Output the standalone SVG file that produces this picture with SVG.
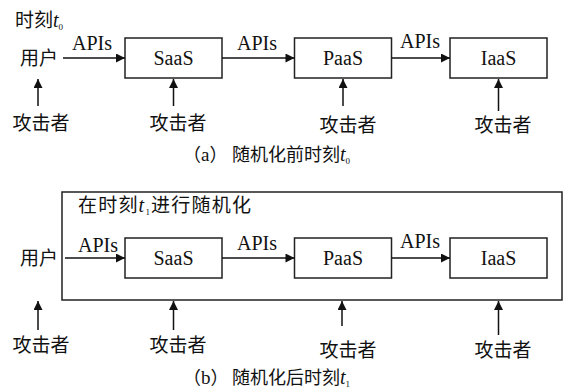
<svg xmlns="http://www.w3.org/2000/svg" width="570" height="390" viewBox="0 0 570 390">
<style>
text{fill:#111}
.cn{font-size:19px}
.cap{font-size:18px}
.lat{font-size:20px}
.it{font-style:italic}
.sub{font-size:9px}
.box{fill:#fff;stroke:#222;stroke-width:1.5}
.frame{fill:none;stroke:#222;stroke-width:1.5}
.ln{stroke:#111;stroke-width:1.5;fill:none}
</style>
<defs>
<marker id="ah" viewBox="0 0 10 10" refX="10" refY="5" markerWidth="10" markerHeight="9" markerUnits="userSpaceOnUse" orient="auto">
<path d="M0,0 L10,5 L0,10 z" fill="#111"/>
</marker>
</defs>
<rect width="570" height="390" fill="#fff"/>
<!-- (a) -->
<g id="a-title"><text class="cn" x="15" y="27" font-family="Noto Sans CJK SC">时刻<tspan class="it" font-family="Liberation Serif" font-size="20">t</tspan><tspan class="sub" dy="3" font-family="Liberation Serif">0</tspan></text></g>
<g id="a-user"><text class="cn" x="20" y="65" font-family="Noto Sans CJK SC">用户</text></g>
<g id="a-saas"><rect class="box" x="125" y="38" width="97" height="40"/><text class="lat" x="173.5" y="64.5" text-anchor="middle" font-family="Liberation Serif">SaaS</text></g>
<g id="a-paas"><rect class="box" x="294.5" y="38" width="97" height="40"/><text class="lat" x="343" y="64.5" text-anchor="middle" font-family="Liberation Serif">PaaS</text></g>
<g id="a-iaas"><rect class="box" x="450" y="38" width="97" height="40"/><text class="lat" x="498.5" y="64.5" text-anchor="middle" font-family="Liberation Serif">IaaS</text></g>
<g id="a-att1"><text class="cn" x="41" y="130" text-anchor="middle" font-family="Noto Sans CJK SC">攻击者</text></g>
<g id="a-att2"><text class="cn" x="178" y="130" text-anchor="middle" font-family="Noto Sans CJK SC">攻击者</text></g>
<g id="a-att3"><text class="cn" x="348" y="132" text-anchor="middle" font-family="Noto Sans CJK SC">攻击者</text></g>
<g id="a-att4"><text class="cn" x="503" y="132" text-anchor="middle" font-family="Noto Sans CJK SC">攻击者</text></g>
<g id="a-caption"><text class="cap" x="183" y="161" font-family="Noto Sans CJK SC">（<tspan font-family="Liberation Serif" font-size="19">a</tspan>）<tspan x="232">随机化前时刻</tspan><tspan class="it" font-family="Liberation Serif" font-size="20">t</tspan><tspan class="sub" dy="3" font-family="Liberation Serif">0</tspan></text></g>

<g id="a-connectors">
<line class="ln" x1="63" y1="58" x2="125" y2="58" marker-end="url(#ah)"/>
<line class="ln" x1="222" y1="58" x2="294.5" y2="58" marker-end="url(#ah)"/>
<line class="ln" x1="391.5" y1="58" x2="450" y2="58" marker-end="url(#ah)"/>
<line class="ln" x1="38" y1="106" x2="38" y2="79" marker-end="url(#ah)"/>
<line class="ln" x1="173.5" y1="106" x2="173.5" y2="79" marker-end="url(#ah)"/>
<line class="ln" x1="343" y1="106" x2="343" y2="79" marker-end="url(#ah)"/>
<line class="ln" x1="498.5" y1="111" x2="498.5" y2="79" marker-end="url(#ah)"/>
<text class="lat" x="72" y="50" font-family="Liberation Serif" font-size="21">APIs</text>
<text class="lat" x="237" y="50" font-family="Liberation Serif" font-size="21">APIs</text>
<text class="lat" x="400" y="48" font-family="Liberation Serif" font-size="21">APIs</text>
</g>

<!-- (b) -->
<g id="b-frame"><rect class="frame" x="62" y="192" width="500" height="108"/><text class="cn" x="78" y="212" letter-spacing="1.2" font-family="Noto Sans CJK SC">在时刻<tspan class="it" font-family="Liberation Serif" font-size="20">t</tspan><tspan class="sub" dy="3" font-family="Liberation Serif">1</tspan><tspan dy="-3">进行随机化</tspan></text></g>
<g id="b-user"><text class="cn" x="20" y="265" font-family="Noto Sans CJK SC">用户</text></g>
<g id="b-saas"><rect class="box" x="125" y="238" width="97" height="40"/><text class="lat" x="173.5" y="264.5" text-anchor="middle" font-family="Liberation Serif">SaaS</text></g>
<g id="b-paas"><rect class="box" x="294.5" y="238" width="97" height="40"/><text class="lat" x="343" y="264.5" text-anchor="middle" font-family="Liberation Serif">PaaS</text></g>
<g id="b-iaas"><rect class="box" x="450" y="238" width="97" height="40"/><text class="lat" x="498.5" y="264.5" text-anchor="middle" font-family="Liberation Serif">IaaS</text></g>
<g id="b-att1"><text class="cn" x="41" y="352" text-anchor="middle" font-family="Noto Sans CJK SC">攻击者</text></g>
<g id="b-att2"><text class="cn" x="178" y="352" text-anchor="middle" font-family="Noto Sans CJK SC">攻击者</text></g>
<g id="b-att3"><text class="cn" x="348" y="357" text-anchor="middle" font-family="Noto Sans CJK SC">攻击者</text></g>
<g id="b-att4"><text class="cn" x="503" y="357" text-anchor="middle" font-family="Noto Sans CJK SC">攻击者</text></g>
<g id="b-caption"><text class="cap" x="183" y="384" font-family="Noto Sans CJK SC">（<tspan font-family="Liberation Serif" font-size="19">b</tspan>）<tspan x="232">随机化后时刻</tspan><tspan class="it" font-family="Liberation Serif" font-size="20">t</tspan><tspan class="sub" dy="3" font-family="Liberation Serif">1</tspan></text></g>

<g id="b-connectors">
<line class="ln" x1="65" y1="258" x2="125" y2="258" marker-end="url(#ah)"/>
<line class="ln" x1="222" y1="258" x2="294.5" y2="258" marker-end="url(#ah)"/>
<line class="ln" x1="391.5" y1="258" x2="450" y2="258" marker-end="url(#ah)"/>
<line class="ln" x1="38" y1="330" x2="38" y2="301" marker-end="url(#ah)"/>
<line class="ln" x1="173.5" y1="330" x2="173.5" y2="301" marker-end="url(#ah)"/>
<line class="ln" x1="342" y1="326" x2="342" y2="301" marker-end="url(#ah)"/>
<line class="ln" x1="498.5" y1="335" x2="498.5" y2="301" marker-end="url(#ah)"/>
<text class="lat" x="78" y="252" font-family="Liberation Serif" font-size="21">APIs</text>
<text class="lat" x="237" y="250" font-family="Liberation Serif" font-size="21">APIs</text>
<text class="lat" x="400" y="248" font-family="Liberation Serif" font-size="21">APIs</text>
</g>
</svg>
